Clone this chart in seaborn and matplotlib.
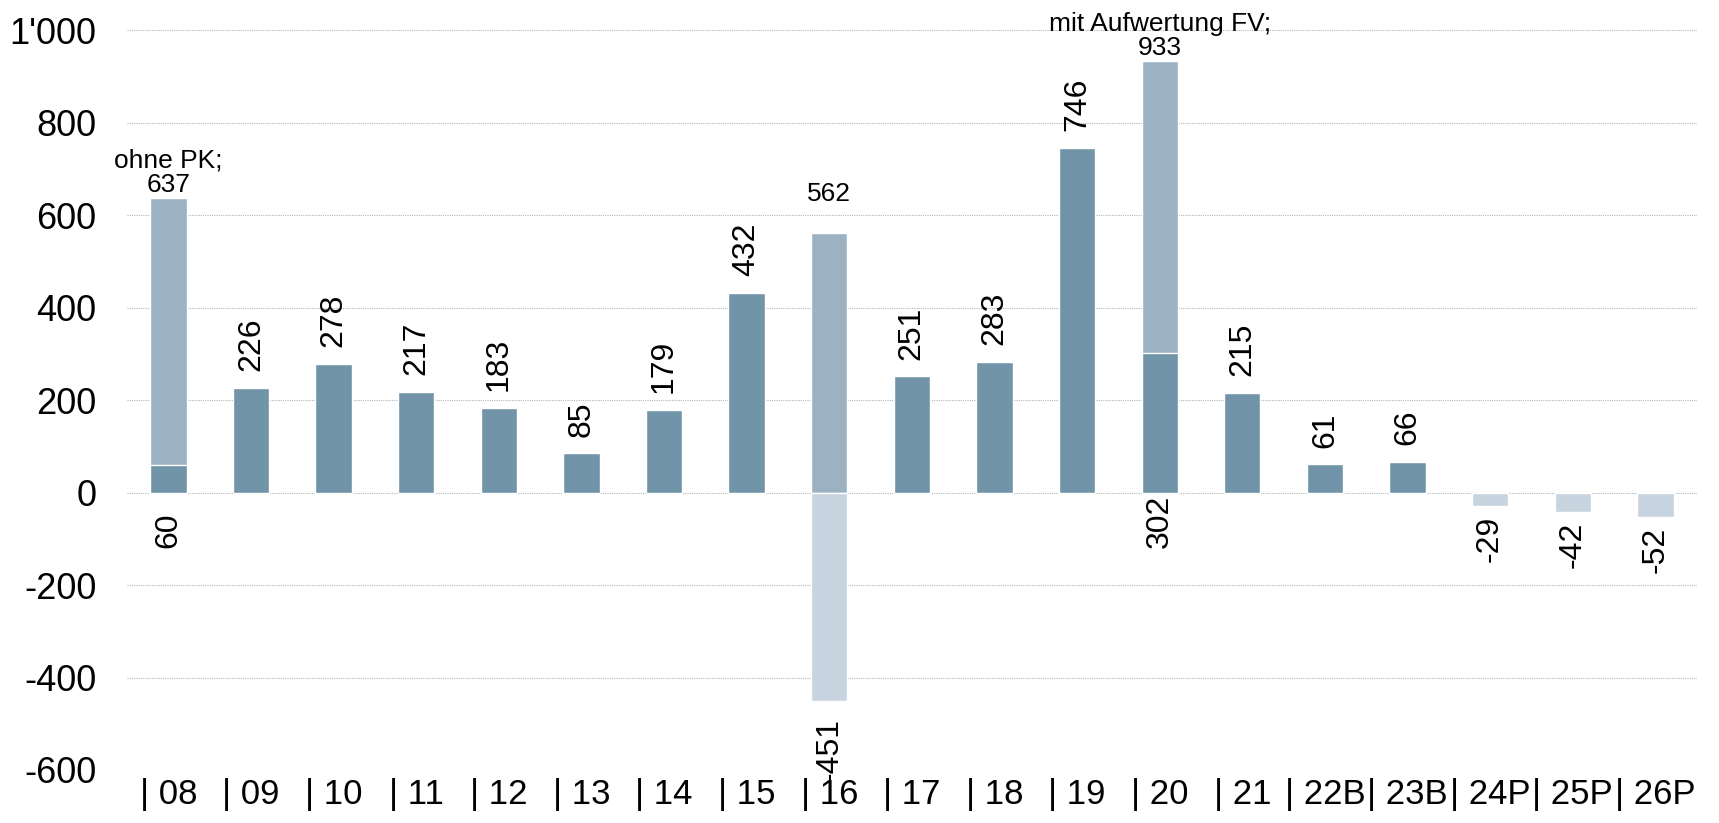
import matplotlib
matplotlib.use("Agg")
import matplotlib.pyplot as plt
import matplotlib.ticker as mticker
import numpy as np
import pandas as pd
import seaborn as sns

# Jahre (Kategorien der x-Achse)
years = ["08", "09", "10", "11", "12", "13", "14", "15", "16", "17",
         "18", "19", "20", "21", "22B", "23B", "24P", "25P", "26P"]

# Rechnungsergebnis (dunkle Balken)
main_vals = [60, 226, 278, 217, 183, 85, 179, 432, None, 251,
             283, 746, 302, 215, 61, 66, None, None, None]

# Sondereffekte (mittlere Balken)
special_vals = [637, None, None, None, None, None, None, None, 562, None,
                None, None, 933, None, None, None, None, None, None]
special_notes = ["ohne PK;", "", "", "", "", "", "", "", "", "",
                 "", "", "mit Aufwertung FV;", "", "", "", "", "", ""]

# helle Balken (Defizit 2016, Planjahre)
light_vals = [None, None, None, None, None, None, None, None, -451, None,
              None, None, None, None, None, None, -29, -42, -52]

c_dark = "#7194a8"
c_mid = "#9cb2c3"
c_light = "#c7d4df"

sns.set_style("white")
plt.rcParams["font.family"] = ["Liberation Sans", "DejaVu Sans"]
plt.rcParams["text.color"] = "black"
plt.rcParams["xtick.color"] = "black"
plt.rcParams["ytick.color"] = "black"

fig = plt.figure(figsize=(17.19, 8.23), dpi=100)
ax = fig.add_axes([0.0739, 0.0644, 0.9131, 0.8991])


def frame(vals):
    df = pd.DataFrame({"year": years, "value": vals})
    return df.dropna()


bw = 0.44
sns.barplot(data=frame(special_vals), x="year", y="value", order=years,
            color=c_mid, saturation=1, width=bw, ax=ax)
sns.barplot(data=frame(main_vals), x="year", y="value", order=years,
            color=c_dark, saturation=1, width=bw, ax=ax)
sns.barplot(data=frame(light_vals), x="year", y="value", order=years,
            color=c_light, saturation=1, width=bw, ax=ax)

lab_fs = 23
note_fs = 19

# Beschriftungen
for i, v in enumerate(main_vals):
    if v is None:
        continue
    if special_vals[i] is not None:
        ax.annotate(f"{v}", (i, 0), xytext=(0, -40), textcoords="offset points",
                    rotation=90, ha="center", va="bottom", fontsize=lab_fs)
    else:
        ax.annotate(f"{v}", (i, v), xytext=(0, 12), textcoords="offset points",
                    rotation=90, ha="center", va="bottom", fontsize=lab_fs)

for i, v in enumerate(light_vals):
    if v is None:
        continue
    off = -12 if v < -200 else -7
    ax.annotate(f"{v}", (i, v), xytext=(0, off), textcoords="offset points",
                rotation=90, ha="center", va="top", fontsize=lab_fs)

for i, v in enumerate(special_vals):
    if v is None:
        continue
    note = special_notes[i]
    if note:
        ax.annotate(f"{note}\n{v}", (i, v), xytext=(0, 1), textcoords="offset points",
                    ha="center", va="bottom", fontsize=note_fs, linespacing=1.0,
                    annotation_clip=False)
    else:
        ax.annotate(f"{v}", (i, v), xytext=(0, 19), textcoords="offset points",
                    ha="center", va="bottom", fontsize=note_fs)

ax.set_ylim(-600, 1000)
ax.set_xlim(-0.5, len(years) - 0.5)
ax.yaxis.set_major_locator(mticker.MultipleLocator(200))
ax.yaxis.set_major_formatter(
    mticker.FuncFormatter(lambda y, _: f"{int(y):,}".replace(",", "'")))
ax.set_xticks(range(len(years)))
ax.set_xticklabels([f"| {y}" for y in years])
ax.tick_params(axis="y", length=0, pad=22, labelsize=26)
ax.tick_params(axis="x", length=0, pad=6, labelsize=25)
ax.set_xlabel("")
ax.set_ylabel("")

ax.yaxis.grid(True, linestyle=(0, (1, 1)), color="#b5b5b5", linewidth=0.8)
ax.set_axisbelow(True)
for s in ax.spines.values():
    s.set_visible(False)

fig.savefig("out.png", dpi=100)
